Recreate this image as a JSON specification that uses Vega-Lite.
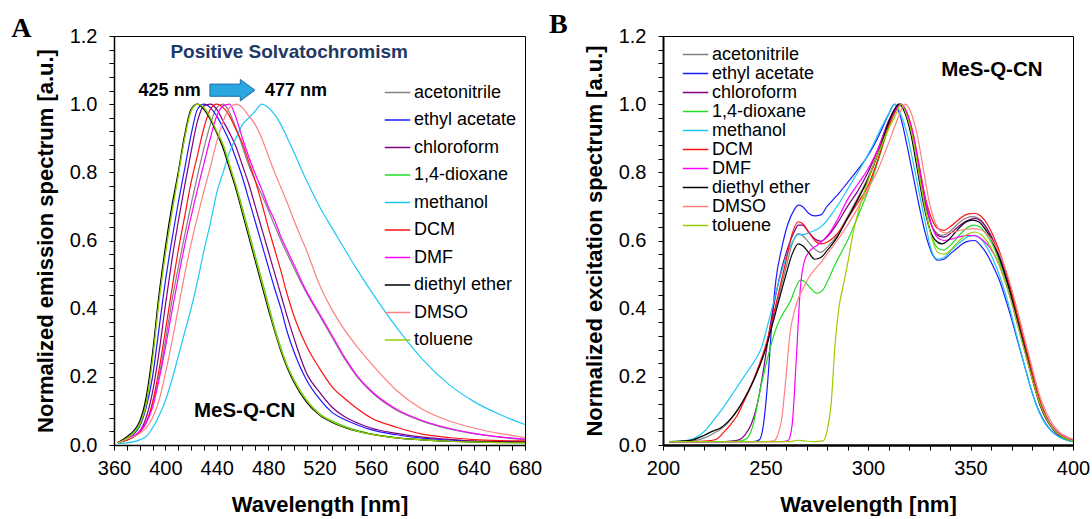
{
"$schema":"https://vega.github.io/schema/vega-lite/v6.json",
"padding":{"left":10,"top":10,"right":0,"bottom":0},
"config":{"font":"Liberation Sans","view":{"stroke":"#000","strokeWidth":1},
"axis":{"grid":false,"domainColor":"#000","domainWidth":1.5,"tickColor":"#000","tickSize":5,"tickWidth":1,"labelFont":"Liberation Sans","labelFontSize":20,"labelColor":"#000","titleFont":"Liberation Sans","titleFontSize":22,"titleFontWeight":"bold","titleColor":"#000","labelOverlap":false,"labelFlush":false,"labelBound":false},
"axisY":{"labelPadding":12,"titlePadding":12},
"axisX":{"labelPadding":8,"titlePadding":16},
"legend":{"labelFont":"Liberation Sans","labelColor":"#000","padding":0}},
"datasets":{
"emission":[
{"s":"acetonitrile","nm":363,"v":0.006},{"s":"acetonitrile","nm":370,"v":0.017},{"s":"acetonitrile","nm":380,"v":0.038},{"s":"acetonitrile","nm":385,"v":0.065},{"s":"acetonitrile","nm":390,"v":0.12},{"s":"acetonitrile","nm":395,"v":0.2},{"s":"acetonitrile","nm":400,"v":0.305},{"s":"acetonitrile","nm":405,"v":0.42},{"s":"acetonitrile","nm":410,"v":0.52},{"s":"acetonitrile","nm":415,"v":0.615},{"s":"acetonitrile","nm":420,"v":0.705},{"s":"acetonitrile","nm":425,"v":0.79},{"s":"acetonitrile","nm":430,"v":0.87},{"s":"acetonitrile","nm":435,"v":0.94},{"s":"acetonitrile","nm":440,"v":0.99},{"s":"acetonitrile","nm":445,"v":1},{"s":"acetonitrile","nm":450,"v":0.975},{"s":"acetonitrile","nm":455,"v":0.93},{"s":"acetonitrile","nm":460,"v":0.875},{"s":"acetonitrile","nm":465,"v":0.82},{"s":"acetonitrile","nm":470,"v":0.775},{"s":"acetonitrile","nm":475,"v":0.735},{"s":"acetonitrile","nm":480,"v":0.69},{"s":"acetonitrile","nm":485,"v":0.645},{"s":"acetonitrile","nm":490,"v":0.6},{"s":"acetonitrile","nm":495,"v":0.56},{"s":"acetonitrile","nm":500,"v":0.52},{"s":"acetonitrile","nm":510,"v":0.445},{"s":"acetonitrile","nm":520,"v":0.38},{"s":"acetonitrile","nm":530,"v":0.315},{"s":"acetonitrile","nm":540,"v":0.25},{"s":"acetonitrile","nm":550,"v":0.197},{"s":"acetonitrile","nm":560,"v":0.157},{"s":"acetonitrile","nm":580,"v":0.102},{"s":"acetonitrile","nm":600,"v":0.07},{"s":"acetonitrile","nm":620,"v":0.048},{"s":"acetonitrile","nm":640,"v":0.033},{"s":"acetonitrile","nm":660,"v":0.023},{"s":"acetonitrile","nm":680,"v":0.016},
{"s":"ethyl acetate","nm":363,"v":0.008},{"s":"ethyl acetate","nm":370,"v":0.018},{"s":"ethyl acetate","nm":380,"v":0.055},{"s":"ethyl acetate","nm":385,"v":0.11},{"s":"ethyl acetate","nm":390,"v":0.2},{"s":"ethyl acetate","nm":395,"v":0.34},{"s":"ethyl acetate","nm":400,"v":0.48},{"s":"ethyl acetate","nm":405,"v":0.6},{"s":"ethyl acetate","nm":410,"v":0.71},{"s":"ethyl acetate","nm":415,"v":0.81},{"s":"ethyl acetate","nm":420,"v":0.91},{"s":"ethyl acetate","nm":425,"v":0.985},{"s":"ethyl acetate","nm":430,"v":1},{"s":"ethyl acetate","nm":435,"v":0.99},{"s":"ethyl acetate","nm":440,"v":0.965},{"s":"ethyl acetate","nm":445,"v":0.93},{"s":"ethyl acetate","nm":450,"v":0.89},{"s":"ethyl acetate","nm":455,"v":0.84},{"s":"ethyl acetate","nm":460,"v":0.785},{"s":"ethyl acetate","nm":465,"v":0.72},{"s":"ethyl acetate","nm":470,"v":0.655},{"s":"ethyl acetate","nm":475,"v":0.59},{"s":"ethyl acetate","nm":480,"v":0.525},{"s":"ethyl acetate","nm":485,"v":0.46},{"s":"ethyl acetate","nm":490,"v":0.4},{"s":"ethyl acetate","nm":495,"v":0.33},{"s":"ethyl acetate","nm":500,"v":0.275},{"s":"ethyl acetate","nm":510,"v":0.19},{"s":"ethyl acetate","nm":520,"v":0.135},{"s":"ethyl acetate","nm":530,"v":0.095},{"s":"ethyl acetate","nm":540,"v":0.074},{"s":"ethyl acetate","nm":550,"v":0.058},{"s":"ethyl acetate","nm":560,"v":0.045},{"s":"ethyl acetate","nm":580,"v":0.03},{"s":"ethyl acetate","nm":600,"v":0.02},{"s":"ethyl acetate","nm":620,"v":0.015},{"s":"ethyl acetate","nm":640,"v":0.011},{"s":"ethyl acetate","nm":660,"v":0.009},{"s":"ethyl acetate","nm":680,"v":0.008},
{"s":"chloroform","nm":363,"v":0.007},{"s":"chloroform","nm":370,"v":0.014},{"s":"chloroform","nm":380,"v":0.04},{"s":"chloroform","nm":385,"v":0.08},{"s":"chloroform","nm":390,"v":0.155},{"s":"chloroform","nm":395,"v":0.27},{"s":"chloroform","nm":400,"v":0.41},{"s":"chloroform","nm":405,"v":0.54},{"s":"chloroform","nm":410,"v":0.655},{"s":"chloroform","nm":415,"v":0.76},{"s":"chloroform","nm":420,"v":0.86},{"s":"chloroform","nm":425,"v":0.95},{"s":"chloroform","nm":430,"v":0.995},{"s":"chloroform","nm":435,"v":1},{"s":"chloroform","nm":440,"v":0.985},{"s":"chloroform","nm":445,"v":0.95},{"s":"chloroform","nm":450,"v":0.915},{"s":"chloroform","nm":455,"v":0.875},{"s":"chloroform","nm":460,"v":0.82},{"s":"chloroform","nm":465,"v":0.765},{"s":"chloroform","nm":470,"v":0.7},{"s":"chloroform","nm":475,"v":0.635},{"s":"chloroform","nm":480,"v":0.57},{"s":"chloroform","nm":485,"v":0.505},{"s":"chloroform","nm":490,"v":0.44},{"s":"chloroform","nm":495,"v":0.375},{"s":"chloroform","nm":500,"v":0.315},{"s":"chloroform","nm":510,"v":0.21},{"s":"chloroform","nm":520,"v":0.155},{"s":"chloroform","nm":530,"v":0.11},{"s":"chloroform","nm":540,"v":0.082},{"s":"chloroform","nm":550,"v":0.064},{"s":"chloroform","nm":560,"v":0.05},{"s":"chloroform","nm":580,"v":0.034},{"s":"chloroform","nm":600,"v":0.023},{"s":"chloroform","nm":620,"v":0.017},{"s":"chloroform","nm":640,"v":0.012},{"s":"chloroform","nm":660,"v":0.01},{"s":"chloroform","nm":680,"v":0.009},
{"s":"1,4-dioxane","nm":363,"v":0.005},{"s":"1,4-dioxane","nm":370,"v":0.02},{"s":"1,4-dioxane","nm":380,"v":0.062},{"s":"1,4-dioxane","nm":385,"v":0.125},{"s":"1,4-dioxane","nm":390,"v":0.26},{"s":"1,4-dioxane","nm":395,"v":0.43},{"s":"1,4-dioxane","nm":400,"v":0.565},{"s":"1,4-dioxane","nm":405,"v":0.685},{"s":"1,4-dioxane","nm":410,"v":0.795},{"s":"1,4-dioxane","nm":415,"v":0.9},{"s":"1,4-dioxane","nm":420,"v":0.98},{"s":"1,4-dioxane","nm":425,"v":1},{"s":"1,4-dioxane","nm":430,"v":0.99},{"s":"1,4-dioxane","nm":435,"v":0.96},{"s":"1,4-dioxane","nm":440,"v":0.92},{"s":"1,4-dioxane","nm":445,"v":0.88},{"s":"1,4-dioxane","nm":450,"v":0.82},{"s":"1,4-dioxane","nm":455,"v":0.76},{"s":"1,4-dioxane","nm":460,"v":0.695},{"s":"1,4-dioxane","nm":465,"v":0.625},{"s":"1,4-dioxane","nm":470,"v":0.555},{"s":"1,4-dioxane","nm":475,"v":0.485},{"s":"1,4-dioxane","nm":480,"v":0.415},{"s":"1,4-dioxane","nm":485,"v":0.345},{"s":"1,4-dioxane","nm":490,"v":0.285},{"s":"1,4-dioxane","nm":495,"v":0.232},{"s":"1,4-dioxane","nm":500,"v":0.192},{"s":"1,4-dioxane","nm":510,"v":0.132},{"s":"1,4-dioxane","nm":520,"v":0.092},{"s":"1,4-dioxane","nm":530,"v":0.07},{"s":"1,4-dioxane","nm":540,"v":0.054},{"s":"1,4-dioxane","nm":550,"v":0.042},{"s":"1,4-dioxane","nm":560,"v":0.033},{"s":"1,4-dioxane","nm":580,"v":0.022},{"s":"1,4-dioxane","nm":600,"v":0.015},{"s":"1,4-dioxane","nm":620,"v":0.011},{"s":"1,4-dioxane","nm":640,"v":0.009},{"s":"1,4-dioxane","nm":660,"v":0.007},{"s":"1,4-dioxane","nm":680,"v":0.006},
{"s":"methanol","nm":363,"v":0.004},{"s":"methanol","nm":370,"v":0.006},{"s":"methanol","nm":380,"v":0.015},{"s":"methanol","nm":385,"v":0.025},{"s":"methanol","nm":390,"v":0.05},{"s":"methanol","nm":395,"v":0.085},{"s":"methanol","nm":400,"v":0.13},{"s":"methanol","nm":405,"v":0.19},{"s":"methanol","nm":410,"v":0.26},{"s":"methanol","nm":415,"v":0.33},{"s":"methanol","nm":420,"v":0.4},{"s":"methanol","nm":425,"v":0.48},{"s":"methanol","nm":430,"v":0.57},{"s":"methanol","nm":435,"v":0.65},{"s":"methanol","nm":440,"v":0.74},{"s":"methanol","nm":445,"v":0.8},{"s":"methanol","nm":450,"v":0.86},{"s":"methanol","nm":455,"v":0.9},{"s":"methanol","nm":460,"v":0.94},{"s":"methanol","nm":465,"v":0.96},{"s":"methanol","nm":470,"v":0.98},{"s":"methanol","nm":475,"v":1},{"s":"methanol","nm":480,"v":0.99},{"s":"methanol","nm":485,"v":0.97},{"s":"methanol","nm":490,"v":0.94},{"s":"methanol","nm":495,"v":0.9},{"s":"methanol","nm":500,"v":0.86},{"s":"methanol","nm":510,"v":0.775},{"s":"methanol","nm":520,"v":0.7},{"s":"methanol","nm":530,"v":0.635},{"s":"methanol","nm":540,"v":0.572},{"s":"methanol","nm":550,"v":0.51},{"s":"methanol","nm":560,"v":0.452},{"s":"methanol","nm":580,"v":0.345},{"s":"methanol","nm":600,"v":0.252},{"s":"methanol","nm":620,"v":0.18},{"s":"methanol","nm":640,"v":0.128},{"s":"methanol","nm":660,"v":0.09},{"s":"methanol","nm":680,"v":0.06},
{"s":"DCM","nm":363,"v":0.007},{"s":"DCM","nm":370,"v":0.015},{"s":"DCM","nm":380,"v":0.038},{"s":"DCM","nm":385,"v":0.065},{"s":"DCM","nm":390,"v":0.125},{"s":"DCM","nm":395,"v":0.22},{"s":"DCM","nm":400,"v":0.335},{"s":"DCM","nm":405,"v":0.455},{"s":"DCM","nm":410,"v":0.57},{"s":"DCM","nm":415,"v":0.67},{"s":"DCM","nm":420,"v":0.77},{"s":"DCM","nm":425,"v":0.85},{"s":"DCM","nm":430,"v":0.93},{"s":"DCM","nm":435,"v":0.985},{"s":"DCM","nm":440,"v":1},{"s":"DCM","nm":445,"v":0.99},{"s":"DCM","nm":450,"v":0.965},{"s":"DCM","nm":455,"v":0.925},{"s":"DCM","nm":460,"v":0.885},{"s":"DCM","nm":465,"v":0.83},{"s":"DCM","nm":470,"v":0.775},{"s":"DCM","nm":475,"v":0.71},{"s":"DCM","nm":480,"v":0.64},{"s":"DCM","nm":485,"v":0.575},{"s":"DCM","nm":490,"v":0.51},{"s":"DCM","nm":495,"v":0.44},{"s":"DCM","nm":500,"v":0.38},{"s":"DCM","nm":510,"v":0.29},{"s":"DCM","nm":520,"v":0.225},{"s":"DCM","nm":530,"v":0.17},{"s":"DCM","nm":540,"v":0.135},{"s":"DCM","nm":550,"v":0.105},{"s":"DCM","nm":560,"v":0.08},{"s":"DCM","nm":580,"v":0.052},{"s":"DCM","nm":600,"v":0.032},{"s":"DCM","nm":620,"v":0.022},{"s":"DCM","nm":640,"v":0.016},{"s":"DCM","nm":660,"v":0.013},{"s":"DCM","nm":680,"v":0.012},
{"s":"DMF","nm":363,"v":0.007},{"s":"DMF","nm":370,"v":0.018},{"s":"DMF","nm":380,"v":0.04},{"s":"DMF","nm":385,"v":0.065},{"s":"DMF","nm":390,"v":0.11},{"s":"DMF","nm":395,"v":0.19},{"s":"DMF","nm":400,"v":0.285},{"s":"DMF","nm":405,"v":0.39},{"s":"DMF","nm":410,"v":0.49},{"s":"DMF","nm":415,"v":0.585},{"s":"DMF","nm":420,"v":0.67},{"s":"DMF","nm":425,"v":0.75},{"s":"DMF","nm":430,"v":0.825},{"s":"DMF","nm":435,"v":0.9},{"s":"DMF","nm":440,"v":0.965},{"s":"DMF","nm":445,"v":0.995},{"s":"DMF","nm":450,"v":1},{"s":"DMF","nm":455,"v":0.96},{"s":"DMF","nm":460,"v":0.9},{"s":"DMF","nm":465,"v":0.845},{"s":"DMF","nm":470,"v":0.795},{"s":"DMF","nm":475,"v":0.75},{"s":"DMF","nm":480,"v":0.7},{"s":"DMF","nm":485,"v":0.66},{"s":"DMF","nm":490,"v":0.61},{"s":"DMF","nm":495,"v":0.57},{"s":"DMF","nm":500,"v":0.53},{"s":"DMF","nm":510,"v":0.45},{"s":"DMF","nm":520,"v":0.385},{"s":"DMF","nm":530,"v":0.32},{"s":"DMF","nm":540,"v":0.255},{"s":"DMF","nm":550,"v":0.2},{"s":"DMF","nm":560,"v":0.16},{"s":"DMF","nm":580,"v":0.105},{"s":"DMF","nm":600,"v":0.072},{"s":"DMF","nm":620,"v":0.05},{"s":"DMF","nm":640,"v":0.034},{"s":"DMF","nm":660,"v":0.024},{"s":"DMF","nm":680,"v":0.017},
{"s":"diethyl ether","nm":363,"v":0.007},{"s":"diethyl ether","nm":370,"v":0.024},{"s":"diethyl ether","nm":380,"v":0.07},{"s":"diethyl ether","nm":385,"v":0.14},{"s":"diethyl ether","nm":390,"v":0.27},{"s":"diethyl ether","nm":395,"v":0.44},{"s":"diethyl ether","nm":400,"v":0.58},{"s":"diethyl ether","nm":405,"v":0.7},{"s":"diethyl ether","nm":410,"v":0.8},{"s":"diethyl ether","nm":415,"v":0.91},{"s":"diethyl ether","nm":420,"v":0.985},{"s":"diethyl ether","nm":425,"v":1},{"s":"diethyl ether","nm":430,"v":0.985},{"s":"diethyl ether","nm":435,"v":0.955},{"s":"diethyl ether","nm":440,"v":0.915},{"s":"diethyl ether","nm":445,"v":0.87},{"s":"diethyl ether","nm":450,"v":0.81},{"s":"diethyl ether","nm":455,"v":0.75},{"s":"diethyl ether","nm":460,"v":0.68},{"s":"diethyl ether","nm":465,"v":0.61},{"s":"diethyl ether","nm":470,"v":0.54},{"s":"diethyl ether","nm":475,"v":0.47},{"s":"diethyl ether","nm":480,"v":0.4},{"s":"diethyl ether","nm":485,"v":0.335},{"s":"diethyl ether","nm":490,"v":0.275},{"s":"diethyl ether","nm":495,"v":0.225},{"s":"diethyl ether","nm":500,"v":0.185},{"s":"diethyl ether","nm":510,"v":0.125},{"s":"diethyl ether","nm":520,"v":0.088},{"s":"diethyl ether","nm":530,"v":0.066},{"s":"diethyl ether","nm":540,"v":0.051},{"s":"diethyl ether","nm":550,"v":0.04},{"s":"diethyl ether","nm":560,"v":0.032},{"s":"diethyl ether","nm":580,"v":0.021},{"s":"diethyl ether","nm":600,"v":0.015},{"s":"diethyl ether","nm":620,"v":0.011},{"s":"diethyl ether","nm":640,"v":0.009},{"s":"diethyl ether","nm":660,"v":0.008},{"s":"diethyl ether","nm":680,"v":0.008},
{"s":"DMSO","nm":363,"v":0.007},{"s":"DMSO","nm":370,"v":0.017},{"s":"DMSO","nm":380,"v":0.034},{"s":"DMSO","nm":385,"v":0.05},{"s":"DMSO","nm":390,"v":0.08},{"s":"DMSO","nm":395,"v":0.13},{"s":"DMSO","nm":400,"v":0.21},{"s":"DMSO","nm":405,"v":0.3},{"s":"DMSO","nm":410,"v":0.4},{"s":"DMSO","nm":415,"v":0.5},{"s":"DMSO","nm":420,"v":0.59},{"s":"DMSO","nm":425,"v":0.67},{"s":"DMSO","nm":430,"v":0.745},{"s":"DMSO","nm":435,"v":0.815},{"s":"DMSO","nm":440,"v":0.89},{"s":"DMSO","nm":445,"v":0.95},{"s":"DMSO","nm":450,"v":0.99},{"s":"DMSO","nm":455,"v":1},{"s":"DMSO","nm":460,"v":0.99},{"s":"DMSO","nm":465,"v":0.965},{"s":"DMSO","nm":470,"v":0.94},{"s":"DMSO","nm":475,"v":0.9},{"s":"DMSO","nm":480,"v":0.85},{"s":"DMSO","nm":485,"v":0.8},{"s":"DMSO","nm":490,"v":0.755},{"s":"DMSO","nm":495,"v":0.71},{"s":"DMSO","nm":500,"v":0.66},{"s":"DMSO","nm":510,"v":0.57},{"s":"DMSO","nm":520,"v":0.47},{"s":"DMSO","nm":530,"v":0.395},{"s":"DMSO","nm":540,"v":0.335},{"s":"DMSO","nm":550,"v":0.285},{"s":"DMSO","nm":560,"v":0.24},{"s":"DMSO","nm":580,"v":0.16},{"s":"DMSO","nm":600,"v":0.105},{"s":"DMSO","nm":620,"v":0.072},{"s":"DMSO","nm":640,"v":0.05},{"s":"DMSO","nm":660,"v":0.034},{"s":"DMSO","nm":680,"v":0.022},
{"s":"toluene","nm":363,"v":0.006},{"s":"toluene","nm":370,"v":0.02},{"s":"toluene","nm":380,"v":0.06},{"s":"toluene","nm":385,"v":0.12},{"s":"toluene","nm":390,"v":0.25},{"s":"toluene","nm":395,"v":0.42},{"s":"toluene","nm":400,"v":0.56},{"s":"toluene","nm":405,"v":0.68},{"s":"toluene","nm":410,"v":0.79},{"s":"toluene","nm":415,"v":0.9},{"s":"toluene","nm":420,"v":0.98},{"s":"toluene","nm":425,"v":1},{"s":"toluene","nm":430,"v":0.99},{"s":"toluene","nm":435,"v":0.96},{"s":"toluene","nm":440,"v":0.92},{"s":"toluene","nm":445,"v":0.88},{"s":"toluene","nm":450,"v":0.82},{"s":"toluene","nm":455,"v":0.76},{"s":"toluene","nm":460,"v":0.69},{"s":"toluene","nm":465,"v":0.62},{"s":"toluene","nm":470,"v":0.55},{"s":"toluene","nm":475,"v":0.48},{"s":"toluene","nm":480,"v":0.41},{"s":"toluene","nm":485,"v":0.34},{"s":"toluene","nm":490,"v":0.28},{"s":"toluene","nm":495,"v":0.23},{"s":"toluene","nm":500,"v":0.19},{"s":"toluene","nm":510,"v":0.13},{"s":"toluene","nm":520,"v":0.09},{"s":"toluene","nm":530,"v":0.068},{"s":"toluene","nm":540,"v":0.052},{"s":"toluene","nm":550,"v":0.04},{"s":"toluene","nm":560,"v":0.032},{"s":"toluene","nm":580,"v":0.021},{"s":"toluene","nm":600,"v":0.015},{"s":"toluene","nm":620,"v":0.011},{"s":"toluene","nm":640,"v":0.009},{"s":"toluene","nm":660,"v":0.007},{"s":"toluene","nm":680,"v":0.006}
],
"excitation":[
{"s":"acetonitrile","nm":203,"v":0.01},{"s":"acetonitrile","nm":210,"v":0.011},{"s":"acetonitrile","nm":215,"v":0.013},{"s":"acetonitrile","nm":220,"v":0.02},{"s":"acetonitrile","nm":225,"v":0.035},{"s":"acetonitrile","nm":230,"v":0.055},{"s":"acetonitrile","nm":235,"v":0.09},{"s":"acetonitrile","nm":240,"v":0.135},{"s":"acetonitrile","nm":245,"v":0.2},{"s":"acetonitrile","nm":250,"v":0.285},{"s":"acetonitrile","nm":255,"v":0.4},{"s":"acetonitrile","nm":260,"v":0.52},{"s":"acetonitrile","nm":263,"v":0.59},{"s":"acetonitrile","nm":266,"v":0.62},{"s":"acetonitrile","nm":268,"v":0.615},{"s":"acetonitrile","nm":271,"v":0.595},{"s":"acetonitrile","nm":274,"v":0.575},{"s":"acetonitrile","nm":277,"v":0.565},{"s":"acetonitrile","nm":280,"v":0.58},{"s":"acetonitrile","nm":285,"v":0.615},{"s":"acetonitrile","nm":290,"v":0.67},{"s":"acetonitrile","nm":295,"v":0.725},{"s":"acetonitrile","nm":300,"v":0.785},{"s":"acetonitrile","nm":305,"v":0.86},{"s":"acetonitrile","nm":310,"v":0.95},{"s":"acetonitrile","nm":313,"v":0.985},{"s":"acetonitrile","nm":315,"v":1},{"s":"acetonitrile","nm":318,"v":0.98},{"s":"acetonitrile","nm":321,"v":0.92},{"s":"acetonitrile","nm":324,"v":0.825},{"s":"acetonitrile","nm":327,"v":0.73},{"s":"acetonitrile","nm":330,"v":0.66},{"s":"acetonitrile","nm":333,"v":0.625},{"s":"acetonitrile","nm":336,"v":0.615},{"s":"acetonitrile","nm":339,"v":0.622},{"s":"acetonitrile","nm":342,"v":0.638},{"s":"acetonitrile","nm":345,"v":0.655},{"s":"acetonitrile","nm":348,"v":0.666},{"s":"acetonitrile","nm":351,"v":0.67},{"s":"acetonitrile","nm":354,"v":0.665},{"s":"acetonitrile","nm":357,"v":0.645},{"s":"acetonitrile","nm":360,"v":0.615},{"s":"acetonitrile","nm":363,"v":0.575},{"s":"acetonitrile","nm":366,"v":0.525},{"s":"acetonitrile","nm":369,"v":0.465},{"s":"acetonitrile","nm":372,"v":0.395},{"s":"acetonitrile","nm":375,"v":0.325},{"s":"acetonitrile","nm":378,"v":0.255},{"s":"acetonitrile","nm":381,"v":0.185},{"s":"acetonitrile","nm":384,"v":0.122},{"s":"acetonitrile","nm":387,"v":0.08},{"s":"acetonitrile","nm":390,"v":0.05},{"s":"acetonitrile","nm":393,"v":0.032},{"s":"acetonitrile","nm":396,"v":0.021},{"s":"acetonitrile","nm":400,"v":0.013},
{"s":"ethyl acetate","nm":203,"v":0.01},{"s":"ethyl acetate","nm":244,"v":0.01},{"s":"ethyl acetate","nm":247,"v":0.015},{"s":"ethyl acetate","nm":249,"v":0.06},{"s":"ethyl acetate","nm":251,"v":0.18},{"s":"ethyl acetate","nm":253,"v":0.35},{"s":"ethyl acetate","nm":255,"v":0.48},{"s":"ethyl acetate","nm":258,"v":0.58},{"s":"ethyl acetate","nm":261,"v":0.65},{"s":"ethyl acetate","nm":264,"v":0.69},{"s":"ethyl acetate","nm":266,"v":0.704},{"s":"ethyl acetate","nm":268,"v":0.7},{"s":"ethyl acetate","nm":271,"v":0.68},{"s":"ethyl acetate","nm":274,"v":0.672},{"s":"ethyl acetate","nm":277,"v":0.675},{"s":"ethyl acetate","nm":280,"v":0.7},{"s":"ethyl acetate","nm":283,"v":0.72},{"s":"ethyl acetate","nm":286,"v":0.74},{"s":"ethyl acetate","nm":290,"v":0.77},{"s":"ethyl acetate","nm":294,"v":0.8},{"s":"ethyl acetate","nm":299,"v":0.84},{"s":"ethyl acetate","nm":303,"v":0.88},{"s":"ethyl acetate","nm":307,"v":0.93},{"s":"ethyl acetate","nm":310,"v":0.97},{"s":"ethyl acetate","nm":313,"v":1},{"s":"ethyl acetate","nm":316,"v":0.96},{"s":"ethyl acetate","nm":319,"v":0.88},{"s":"ethyl acetate","nm":322,"v":0.79},{"s":"ethyl acetate","nm":325,"v":0.7},{"s":"ethyl acetate","nm":328,"v":0.62},{"s":"ethyl acetate","nm":331,"v":0.565},{"s":"ethyl acetate","nm":334,"v":0.542},{"s":"ethyl acetate","nm":337,"v":0.545},{"s":"ethyl acetate","nm":340,"v":0.56},{"s":"ethyl acetate","nm":343,"v":0.575},{"s":"ethyl acetate","nm":346,"v":0.59},{"s":"ethyl acetate","nm":349,"v":0.598},{"s":"ethyl acetate","nm":352,"v":0.6},{"s":"ethyl acetate","nm":355,"v":0.585},{"s":"ethyl acetate","nm":358,"v":0.56},{"s":"ethyl acetate","nm":361,"v":0.525},{"s":"ethyl acetate","nm":364,"v":0.485},{"s":"ethyl acetate","nm":367,"v":0.43},{"s":"ethyl acetate","nm":370,"v":0.37},{"s":"ethyl acetate","nm":373,"v":0.305},{"s":"ethyl acetate","nm":376,"v":0.24},{"s":"ethyl acetate","nm":379,"v":0.175},{"s":"ethyl acetate","nm":382,"v":0.12},{"s":"ethyl acetate","nm":385,"v":0.08},{"s":"ethyl acetate","nm":388,"v":0.052},{"s":"ethyl acetate","nm":391,"v":0.034},{"s":"ethyl acetate","nm":394,"v":0.022},{"s":"ethyl acetate","nm":397,"v":0.015},{"s":"ethyl acetate","nm":400,"v":0.01},
{"s":"chloroform","nm":203,"v":0.01},{"s":"chloroform","nm":230,"v":0.01},{"s":"chloroform","nm":234,"v":0.012},{"s":"chloroform","nm":237,"v":0.015},{"s":"chloroform","nm":240,"v":0.03},{"s":"chloroform","nm":243,"v":0.06},{"s":"chloroform","nm":246,"v":0.12},{"s":"chloroform","nm":249,"v":0.22},{"s":"chloroform","nm":252,"v":0.34},{"s":"chloroform","nm":255,"v":0.44},{"s":"chloroform","nm":258,"v":0.52},{"s":"chloroform","nm":261,"v":0.58},{"s":"chloroform","nm":264,"v":0.625},{"s":"chloroform","nm":266,"v":0.645},{"s":"chloroform","nm":268,"v":0.645},{"s":"chloroform","nm":271,"v":0.625},{"s":"chloroform","nm":274,"v":0.605},{"s":"chloroform","nm":277,"v":0.598},{"s":"chloroform","nm":280,"v":0.61},{"s":"chloroform","nm":285,"v":0.65},{"s":"chloroform","nm":290,"v":0.7},{"s":"chloroform","nm":295,"v":0.745},{"s":"chloroform","nm":300,"v":0.8},{"s":"chloroform","nm":305,"v":0.87},{"s":"chloroform","nm":310,"v":0.95},{"s":"chloroform","nm":313,"v":0.985},{"s":"chloroform","nm":316,"v":1},{"s":"chloroform","nm":319,"v":0.97},{"s":"chloroform","nm":322,"v":0.905},{"s":"chloroform","nm":325,"v":0.81},{"s":"chloroform","nm":328,"v":0.715},{"s":"chloroform","nm":331,"v":0.645},{"s":"chloroform","nm":334,"v":0.615},{"s":"chloroform","nm":337,"v":0.61},{"s":"chloroform","nm":340,"v":0.62},{"s":"chloroform","nm":343,"v":0.635},{"s":"chloroform","nm":346,"v":0.65},{"s":"chloroform","nm":349,"v":0.66},{"s":"chloroform","nm":352,"v":0.665},{"s":"chloroform","nm":355,"v":0.658},{"s":"chloroform","nm":358,"v":0.635},{"s":"chloroform","nm":361,"v":0.6},{"s":"chloroform","nm":364,"v":0.555},{"s":"chloroform","nm":367,"v":0.5},{"s":"chloroform","nm":370,"v":0.44},{"s":"chloroform","nm":373,"v":0.37},{"s":"chloroform","nm":376,"v":0.3},{"s":"chloroform","nm":379,"v":0.23},{"s":"chloroform","nm":382,"v":0.163},{"s":"chloroform","nm":385,"v":0.108},{"s":"chloroform","nm":388,"v":0.07},{"s":"chloroform","nm":391,"v":0.045},{"s":"chloroform","nm":394,"v":0.028},{"s":"chloroform","nm":397,"v":0.019},{"s":"chloroform","nm":400,"v":0.013},
{"s":"1,4-dioxane","nm":203,"v":0.01},{"s":"1,4-dioxane","nm":235,"v":0.01},{"s":"1,4-dioxane","nm":238,"v":0.012},{"s":"1,4-dioxane","nm":241,"v":0.02},{"s":"1,4-dioxane","nm":244,"v":0.06},{"s":"1,4-dioxane","nm":247,"v":0.15},{"s":"1,4-dioxane","nm":250,"v":0.23},{"s":"1,4-dioxane","nm":253,"v":0.3},{"s":"1,4-dioxane","nm":256,"v":0.355},{"s":"1,4-dioxane","nm":259,"v":0.39},{"s":"1,4-dioxane","nm":262,"v":0.42},{"s":"1,4-dioxane","nm":265,"v":0.465},{"s":"1,4-dioxane","nm":267,"v":0.484},{"s":"1,4-dioxane","nm":269,"v":0.48},{"s":"1,4-dioxane","nm":272,"v":0.46},{"s":"1,4-dioxane","nm":275,"v":0.445},{"s":"1,4-dioxane","nm":278,"v":0.455},{"s":"1,4-dioxane","nm":281,"v":0.49},{"s":"1,4-dioxane","nm":284,"v":0.53},{"s":"1,4-dioxane","nm":287,"v":0.565},{"s":"1,4-dioxane","nm":290,"v":0.6},{"s":"1,4-dioxane","nm":295,"v":0.67},{"s":"1,4-dioxane","nm":300,"v":0.745},{"s":"1,4-dioxane","nm":305,"v":0.835},{"s":"1,4-dioxane","nm":310,"v":0.93},{"s":"1,4-dioxane","nm":313,"v":0.975},{"s":"1,4-dioxane","nm":316,"v":1},{"s":"1,4-dioxane","nm":319,"v":0.965},{"s":"1,4-dioxane","nm":322,"v":0.895},{"s":"1,4-dioxane","nm":325,"v":0.79},{"s":"1,4-dioxane","nm":328,"v":0.69},{"s":"1,4-dioxane","nm":331,"v":0.615},{"s":"1,4-dioxane","nm":334,"v":0.578},{"s":"1,4-dioxane","nm":337,"v":0.572},{"s":"1,4-dioxane","nm":340,"v":0.585},{"s":"1,4-dioxane","nm":343,"v":0.605},{"s":"1,4-dioxane","nm":346,"v":0.625},{"s":"1,4-dioxane","nm":349,"v":0.64},{"s":"1,4-dioxane","nm":352,"v":0.645},{"s":"1,4-dioxane","nm":355,"v":0.638},{"s":"1,4-dioxane","nm":358,"v":0.615},{"s":"1,4-dioxane","nm":361,"v":0.585},{"s":"1,4-dioxane","nm":364,"v":0.54},{"s":"1,4-dioxane","nm":367,"v":0.49},{"s":"1,4-dioxane","nm":370,"v":0.43},{"s":"1,4-dioxane","nm":373,"v":0.36},{"s":"1,4-dioxane","nm":376,"v":0.29},{"s":"1,4-dioxane","nm":379,"v":0.222},{"s":"1,4-dioxane","nm":382,"v":0.158},{"s":"1,4-dioxane","nm":385,"v":0.105},{"s":"1,4-dioxane","nm":388,"v":0.068},{"s":"1,4-dioxane","nm":391,"v":0.043},{"s":"1,4-dioxane","nm":394,"v":0.027},{"s":"1,4-dioxane","nm":397,"v":0.018},{"s":"1,4-dioxane","nm":400,"v":0.012},
{"s":"methanol","nm":203,"v":0.01},{"s":"methanol","nm":210,"v":0.012},{"s":"methanol","nm":213,"v":0.015},{"s":"methanol","nm":217,"v":0.025},{"s":"methanol","nm":221,"v":0.045},{"s":"methanol","nm":225,"v":0.075},{"s":"methanol","nm":230,"v":0.115},{"s":"methanol","nm":235,"v":0.16},{"s":"methanol","nm":240,"v":0.205},{"s":"methanol","nm":245,"v":0.25},{"s":"methanol","nm":248,"v":0.285},{"s":"methanol","nm":251,"v":0.35},{"s":"methanol","nm":254,"v":0.42},{"s":"methanol","nm":257,"v":0.49},{"s":"methanol","nm":260,"v":0.55},{"s":"methanol","nm":263,"v":0.595},{"s":"methanol","nm":266,"v":0.617},{"s":"methanol","nm":269,"v":0.618},{"s":"methanol","nm":272,"v":0.625},{"s":"methanol","nm":275,"v":0.632},{"s":"methanol","nm":278,"v":0.645},{"s":"methanol","nm":282,"v":0.675},{"s":"methanol","nm":286,"v":0.71},{"s":"methanol","nm":290,"v":0.75},{"s":"methanol","nm":294,"v":0.79},{"s":"methanol","nm":298,"v":0.83},{"s":"methanol","nm":302,"v":0.875},{"s":"methanol","nm":306,"v":0.925},{"s":"methanol","nm":310,"v":0.97},{"s":"methanol","nm":313,"v":1},{"s":"methanol","nm":316,"v":0.97},{"s":"methanol","nm":319,"v":0.915},{"s":"methanol","nm":322,"v":0.83},{"s":"methanol","nm":325,"v":0.74},{"s":"methanol","nm":328,"v":0.65},{"s":"methanol","nm":331,"v":0.57},{"s":"methanol","nm":334,"v":0.545},{"s":"methanol","nm":337,"v":0.55},{"s":"methanol","nm":340,"v":0.567},{"s":"methanol","nm":343,"v":0.585},{"s":"methanol","nm":346,"v":0.6},{"s":"methanol","nm":349,"v":0.612},{"s":"methanol","nm":352,"v":0.615},{"s":"methanol","nm":355,"v":0.605},{"s":"methanol","nm":358,"v":0.58},{"s":"methanol","nm":361,"v":0.545},{"s":"methanol","nm":364,"v":0.5},{"s":"methanol","nm":367,"v":0.445},{"s":"methanol","nm":370,"v":0.38},{"s":"methanol","nm":373,"v":0.31},{"s":"methanol","nm":376,"v":0.24},{"s":"methanol","nm":379,"v":0.175},{"s":"methanol","nm":382,"v":0.118},{"s":"methanol","nm":385,"v":0.077},{"s":"methanol","nm":388,"v":0.05},{"s":"methanol","nm":391,"v":0.032},{"s":"methanol","nm":394,"v":0.021},{"s":"methanol","nm":397,"v":0.014},{"s":"methanol","nm":400,"v":0.01},
{"s":"DCM","nm":203,"v":0.01},{"s":"DCM","nm":215,"v":0.01},{"s":"DCM","nm":222,"v":0.012},{"s":"DCM","nm":226,"v":0.017},{"s":"DCM","nm":230,"v":0.04},{"s":"DCM","nm":233,"v":0.06},{"s":"DCM","nm":236,"v":0.085},{"s":"DCM","nm":240,"v":0.135},{"s":"DCM","nm":245,"v":0.205},{"s":"DCM","nm":250,"v":0.29},{"s":"DCM","nm":255,"v":0.41},{"s":"DCM","nm":260,"v":0.54},{"s":"DCM","nm":263,"v":0.62},{"s":"DCM","nm":266,"v":0.655},{"s":"DCM","nm":268,"v":0.65},{"s":"DCM","nm":271,"v":0.625},{"s":"DCM","nm":274,"v":0.6},{"s":"DCM","nm":277,"v":0.59},{"s":"DCM","nm":280,"v":0.595},{"s":"DCM","nm":285,"v":0.62},{"s":"DCM","nm":290,"v":0.665},{"s":"DCM","nm":295,"v":0.71},{"s":"DCM","nm":300,"v":0.76},{"s":"DCM","nm":305,"v":0.84},{"s":"DCM","nm":310,"v":0.935},{"s":"DCM","nm":313,"v":0.975},{"s":"DCM","nm":316,"v":1},{"s":"DCM","nm":319,"v":0.975},{"s":"DCM","nm":322,"v":0.915},{"s":"DCM","nm":325,"v":0.82},{"s":"DCM","nm":328,"v":0.725},{"s":"DCM","nm":331,"v":0.665},{"s":"DCM","nm":334,"v":0.635},{"s":"DCM","nm":337,"v":0.63},{"s":"DCM","nm":340,"v":0.64},{"s":"DCM","nm":343,"v":0.655},{"s":"DCM","nm":346,"v":0.67},{"s":"DCM","nm":349,"v":0.678},{"s":"DCM","nm":352,"v":0.68},{"s":"DCM","nm":355,"v":0.672},{"s":"DCM","nm":358,"v":0.65},{"s":"DCM","nm":361,"v":0.615},{"s":"DCM","nm":364,"v":0.57},{"s":"DCM","nm":367,"v":0.515},{"s":"DCM","nm":370,"v":0.45},{"s":"DCM","nm":373,"v":0.38},{"s":"DCM","nm":376,"v":0.31},{"s":"DCM","nm":379,"v":0.24},{"s":"DCM","nm":382,"v":0.17},{"s":"DCM","nm":385,"v":0.112},{"s":"DCM","nm":388,"v":0.072},{"s":"DCM","nm":391,"v":0.046},{"s":"DCM","nm":394,"v":0.03},{"s":"DCM","nm":397,"v":0.02},{"s":"DCM","nm":400,"v":0.014},
{"s":"DMF","nm":203,"v":0.01},{"s":"DMF","nm":258,"v":0.01},{"s":"DMF","nm":261,"v":0.013},{"s":"DMF","nm":263,"v":0.06},{"s":"DMF","nm":265,"v":0.25},{"s":"DMF","nm":267,"v":0.46},{"s":"DMF","nm":269,"v":0.54},{"s":"DMF","nm":272,"v":0.572},{"s":"DMF","nm":275,"v":0.585},{"s":"DMF","nm":278,"v":0.6},{"s":"DMF","nm":281,"v":0.62},{"s":"DMF","nm":285,"v":0.66},{"s":"DMF","nm":290,"v":0.72},{"s":"DMF","nm":295,"v":0.765},{"s":"DMF","nm":300,"v":0.81},{"s":"DMF","nm":305,"v":0.87},{"s":"DMF","nm":310,"v":0.945},{"s":"DMF","nm":313,"v":0.98},{"s":"DMF","nm":316,"v":1},{"s":"DMF","nm":319,"v":0.975},{"s":"DMF","nm":322,"v":0.91},{"s":"DMF","nm":325,"v":0.815},{"s":"DMF","nm":328,"v":0.72},{"s":"DMF","nm":331,"v":0.645},{"s":"DMF","nm":334,"v":0.608},{"s":"DMF","nm":337,"v":0.6},{"s":"DMF","nm":340,"v":0.603},{"s":"DMF","nm":343,"v":0.608},{"s":"DMF","nm":346,"v":0.613},{"s":"DMF","nm":349,"v":0.615},{"s":"DMF","nm":352,"v":0.614},{"s":"DMF","nm":355,"v":0.606},{"s":"DMF","nm":358,"v":0.59},{"s":"DMF","nm":361,"v":0.565},{"s":"DMF","nm":364,"v":0.528},{"s":"DMF","nm":367,"v":0.478},{"s":"DMF","nm":370,"v":0.42},{"s":"DMF","nm":373,"v":0.352},{"s":"DMF","nm":376,"v":0.285},{"s":"DMF","nm":379,"v":0.218},{"s":"DMF","nm":382,"v":0.155},{"s":"DMF","nm":385,"v":0.105},{"s":"DMF","nm":388,"v":0.068},{"s":"DMF","nm":391,"v":0.045},{"s":"DMF","nm":394,"v":0.029},{"s":"DMF","nm":397,"v":0.02},{"s":"DMF","nm":400,"v":0.014},
{"s":"diethyl ether","nm":203,"v":0.01},{"s":"diethyl ether","nm":210,"v":0.012},{"s":"diethyl ether","nm":215,"v":0.016},{"s":"diethyl ether","nm":220,"v":0.028},{"s":"diethyl ether","nm":224,"v":0.04},{"s":"diethyl ether","nm":228,"v":0.05},{"s":"diethyl ether","nm":232,"v":0.07},{"s":"diethyl ether","nm":236,"v":0.1},{"s":"diethyl ether","nm":240,"v":0.14},{"s":"diethyl ether","nm":245,"v":0.2},{"s":"diethyl ether","nm":250,"v":0.28},{"s":"diethyl ether","nm":255,"v":0.39},{"s":"diethyl ether","nm":260,"v":0.5},{"s":"diethyl ether","nm":263,"v":0.56},{"s":"diethyl ether","nm":266,"v":0.59},{"s":"diethyl ether","nm":268,"v":0.585},{"s":"diethyl ether","nm":271,"v":0.565},{"s":"diethyl ether","nm":274,"v":0.545},{"s":"diethyl ether","nm":277,"v":0.55},{"s":"diethyl ether","nm":280,"v":0.57},{"s":"diethyl ether","nm":285,"v":0.61},{"s":"diethyl ether","nm":290,"v":0.665},{"s":"diethyl ether","nm":295,"v":0.72},{"s":"diethyl ether","nm":300,"v":0.78},{"s":"diethyl ether","nm":305,"v":0.855},{"s":"diethyl ether","nm":310,"v":0.945},{"s":"diethyl ether","nm":313,"v":0.985},{"s":"diethyl ether","nm":315,"v":1},{"s":"diethyl ether","nm":318,"v":0.975},{"s":"diethyl ether","nm":321,"v":0.91},{"s":"diethyl ether","nm":324,"v":0.81},{"s":"diethyl ether","nm":327,"v":0.71},{"s":"diethyl ether","nm":330,"v":0.635},{"s":"diethyl ether","nm":333,"v":0.6},{"s":"diethyl ether","nm":336,"v":0.59},{"s":"diethyl ether","nm":339,"v":0.6},{"s":"diethyl ether","nm":342,"v":0.62},{"s":"diethyl ether","nm":345,"v":0.64},{"s":"diethyl ether","nm":348,"v":0.655},{"s":"diethyl ether","nm":351,"v":0.66},{"s":"diethyl ether","nm":354,"v":0.655},{"s":"diethyl ether","nm":357,"v":0.635},{"s":"diethyl ether","nm":360,"v":0.605},{"s":"diethyl ether","nm":363,"v":0.565},{"s":"diethyl ether","nm":366,"v":0.515},{"s":"diethyl ether","nm":369,"v":0.455},{"s":"diethyl ether","nm":372,"v":0.385},{"s":"diethyl ether","nm":375,"v":0.315},{"s":"diethyl ether","nm":378,"v":0.245},{"s":"diethyl ether","nm":381,"v":0.175},{"s":"diethyl ether","nm":384,"v":0.115},{"s":"diethyl ether","nm":387,"v":0.075},{"s":"diethyl ether","nm":390,"v":0.048},{"s":"diethyl ether","nm":393,"v":0.03},{"s":"diethyl ether","nm":396,"v":0.02},{"s":"diethyl ether","nm":400,"v":0.012},
{"s":"DMSO","nm":203,"v":0.01},{"s":"DMSO","nm":250,"v":0.01},{"s":"DMSO","nm":254,"v":0.012},{"s":"DMSO","nm":256,"v":0.03},{"s":"DMSO","nm":258,"v":0.08},{"s":"DMSO","nm":260,"v":0.2},{"s":"DMSO","nm":262,"v":0.33},{"s":"DMSO","nm":264,"v":0.39},{"s":"DMSO","nm":266,"v":0.43},{"s":"DMSO","nm":268,"v":0.455},{"s":"DMSO","nm":271,"v":0.49},{"s":"DMSO","nm":274,"v":0.515},{"s":"DMSO","nm":277,"v":0.535},{"s":"DMSO","nm":280,"v":0.56},{"s":"DMSO","nm":285,"v":0.6},{"s":"DMSO","nm":290,"v":0.645},{"s":"DMSO","nm":295,"v":0.695},{"s":"DMSO","nm":300,"v":0.75},{"s":"DMSO","nm":305,"v":0.81},{"s":"DMSO","nm":310,"v":0.885},{"s":"DMSO","nm":314,"v":0.95},{"s":"DMSO","nm":318,"v":1},{"s":"DMSO","nm":321,"v":0.975},{"s":"DMSO","nm":324,"v":0.91},{"s":"DMSO","nm":327,"v":0.81},{"s":"DMSO","nm":330,"v":0.71},{"s":"DMSO","nm":333,"v":0.65},{"s":"DMSO","nm":336,"v":0.625},{"s":"DMSO","nm":339,"v":0.622},{"s":"DMSO","nm":342,"v":0.625},{"s":"DMSO","nm":345,"v":0.63},{"s":"DMSO","nm":348,"v":0.633},{"s":"DMSO","nm":351,"v":0.635},{"s":"DMSO","nm":354,"v":0.633},{"s":"DMSO","nm":357,"v":0.625},{"s":"DMSO","nm":360,"v":0.605},{"s":"DMSO","nm":363,"v":0.575},{"s":"DMSO","nm":366,"v":0.535},{"s":"DMSO","nm":369,"v":0.48},{"s":"DMSO","nm":372,"v":0.415},{"s":"DMSO","nm":375,"v":0.345},{"s":"DMSO","nm":378,"v":0.275},{"s":"DMSO","nm":381,"v":0.205},{"s":"DMSO","nm":384,"v":0.14},{"s":"DMSO","nm":387,"v":0.095},{"s":"DMSO","nm":390,"v":0.062},{"s":"DMSO","nm":393,"v":0.04},{"s":"DMSO","nm":396,"v":0.027},{"s":"DMSO","nm":400,"v":0.017},
{"s":"toluene","nm":203,"v":0.01},{"s":"toluene","nm":262,"v":0.01},{"s":"toluene","nm":266,"v":0.014},{"s":"toluene","nm":269,"v":0.012},{"s":"toluene","nm":274,"v":0.01},{"s":"toluene","nm":278,"v":0.012},{"s":"toluene","nm":280,"v":0.04},{"s":"toluene","nm":282,"v":0.12},{"s":"toluene","nm":284,"v":0.3},{"s":"toluene","nm":286,"v":0.41},{"s":"toluene","nm":288,"v":0.47},{"s":"toluene","nm":290,"v":0.53},{"s":"toluene","nm":293,"v":0.63},{"s":"toluene","nm":296,"v":0.7},{"s":"toluene","nm":299,"v":0.757},{"s":"toluene","nm":302,"v":0.81},{"s":"toluene","nm":305,"v":0.855},{"s":"toluene","nm":308,"v":0.9},{"s":"toluene","nm":311,"v":0.94},{"s":"toluene","nm":314,"v":0.975},{"s":"toluene","nm":316,"v":1},{"s":"toluene","nm":319,"v":0.965},{"s":"toluene","nm":322,"v":0.895},{"s":"toluene","nm":325,"v":0.79},{"s":"toluene","nm":328,"v":0.69},{"s":"toluene","nm":331,"v":0.61},{"s":"toluene","nm":334,"v":0.565},{"s":"toluene","nm":337,"v":0.56},{"s":"toluene","nm":340,"v":0.57},{"s":"toluene","nm":343,"v":0.59},{"s":"toluene","nm":346,"v":0.608},{"s":"toluene","nm":349,"v":0.62},{"s":"toluene","nm":352,"v":0.625},{"s":"toluene","nm":355,"v":0.618},{"s":"toluene","nm":358,"v":0.598},{"s":"toluene","nm":361,"v":0.568},{"s":"toluene","nm":364,"v":0.528},{"s":"toluene","nm":367,"v":0.478},{"s":"toluene","nm":370,"v":0.42},{"s":"toluene","nm":373,"v":0.352},{"s":"toluene","nm":376,"v":0.285},{"s":"toluene","nm":379,"v":0.218},{"s":"toluene","nm":382,"v":0.155},{"s":"toluene","nm":385,"v":0.103},{"s":"toluene","nm":388,"v":0.067},{"s":"toluene","nm":391,"v":0.043},{"s":"toluene","nm":394,"v":0.027},{"s":"toluene","nm":397,"v":0.018},{"s":"toluene","nm":400,"v":0.012}
]},
"hconcat":[
{"width":411,"height":409,
"encoding":{
"x":{"field":"nm","type":"quantitative","scale":{"domain":[360,680],"nice":false,"zero":false},"axis":{"title":"Wavelength [nm]","values":[360,370,380,390,400,410,420,430,440,450,460,470,480,490,500,510,520,530,540,550,560,570,580,590,600,610,620,630,640,650,660,670,680],"labelExpr":"datum.value % 40 === 0 ? datum.label : ''"}},
"y":{"field":"v","type":"quantitative","scale":{"domain":[0,1.2],"nice":false},"axis":{"title":"Normalized emission spectrum [a.u.]","values":[0,0.04,0.08,0.12,0.16,0.2,0.24,0.28,0.32,0.36,0.4,0.44,0.48,0.52,0.56,0.6,0.64,0.68,0.72,0.76,0.8,0.84,0.88,0.92,0.96,1,1.04,1.08,1.12,1.16,1.2],"labelExpr":"abs(datum.value*5-round(datum.value*5))<0.001 ? format(datum.value,'.1f') : ''"}}},
"layer":[
{"data":{"name":"emission"},"mark":{"type":"line","interpolate":"monotone","strokeWidth":1.2,"clip":true},
"encoding":{"color":{"field":"s","type":"nominal","sort":null,"scale":{"domain":["acetonitrile","ethyl acetate","chloroform","1,4-dioxane","methanol","DCM","DMF","diethyl ether","DMSO","toluene"],"range":["#808080","#1a1aff","#800080","#22dd22","#1ec8f5","#ff1010","#ff00ff","#000000","#ff8080","#99cc00"]},
"legend":{"title":null,"orient":"none","legendX":270,"legendY":43,"symbolType":"stroke","symbolSize":650,"symbolStrokeWidth":1.5,"labelFontSize":18,"labelOffset":3,"rowPadding":4.5}}}},
{"data":{"values":[{"nm":496.4,"v":1.152,"label":"Positive Solvatochromism"}]},"mark":{"type":"text","fontWeight":"bold","fontSize":19,"color":"#1f3864"},"encoding":{"text":{"field":"label"}}},
{"data":{"values":[{"nm":403.3,"v":1.039,"label":"425 nm"},{"nm":501.7,"v":1.039,"label":"477 nm"}]},"mark":{"type":"text","fontWeight":"bold","fontSize":18,"color":"#000"},"encoding":{"text":{"field":"label"}}},
{"data":{"values":[{"nm":461.7,"v":0.1,"label":"MeS-Q-CN"}]},"mark":{"type":"text","fontWeight":"bold","fontSize":20.5,"color":"#000"},"encoding":{"text":{"field":"label"}}},
{"data":{"values":[{"nm":452.2,"v":1.041}]},"mark":{"type":"point","shape":"M-1,-0.27L0.35,-0.27L0.35,-0.48L1,0L0.35,0.48L0.35,0.27L-1,0.27Z","size":2025,"filled":true,"fill":"#2aa7e1","stroke":"#1b6ea8","strokeWidth":1,"opacity":1}},
{"data":{"values":[{"nm":287.9,"v":1.221,"label":"A"}]},"mark":{"type":"text","font":"Liberation Serif","fontWeight":"bold","fontSize":28,"color":"#000"},"encoding":{"text":{"field":"label"}}}
]},
{"width":410,"height":409,
"encoding":{
"x":{"field":"nm","type":"quantitative","scale":{"domain":[200,400],"nice":false,"zero":false},"axis":{"title":"Wavelength [nm]","values":[200,210,220,230,240,250,260,270,280,290,300,310,320,330,340,350,360,370,380,390,400],"labelExpr":"datum.value % 50 === 0 ? datum.label : ''","domainWidth":2.5}},
"y":{"field":"v","type":"quantitative","scale":{"domain":[0,1.2],"nice":false},"axis":{"title":"Normalized excitation spectrum [a.u.]","values":[0,0.04,0.08,0.12,0.16,0.2,0.24,0.28,0.32,0.36,0.4,0.44,0.48,0.52,0.56,0.6,0.64,0.68,0.72,0.76,0.8,0.84,0.88,0.92,0.96,1,1.04,1.08,1.12,1.16,1.2],"labelExpr":"abs(datum.value*5-round(datum.value*5))<0.001 ? format(datum.value,'.1f') : ''","domainWidth":2}}},
"layer":[
{"data":{"name":"excitation"},"mark":{"type":"line","interpolate":"monotone","strokeWidth":1.2,"clip":true},
"encoding":{"color":{"field":"s","type":"nominal","sort":null,"scale":{"domain":["acetonitrile","ethyl acetate","chloroform","1,4-dioxane","methanol","DCM","DMF","diethyl ether","DMSO","toluene"],"range":["#808080","#1a1aff","#800080","#22dd22","#1ec8f5","#ff1010","#ff00ff","#000000","#ff8080","#99cc00"]},
"legend":{"title":null,"orient":"none","legendX":23,"legendY":9,"symbolType":"M-1.5,0H1.5","symbolSize":289,"symbolStrokeWidth":1.5,"labelFontSize":18,"labelOffset":7,"rowPadding":0}}}},
{"data":{"values":[{"nm":360.4,"v":1.1,"label":"MeS-Q-CN"}]},"mark":{"type":"text","fontWeight":"bold","fontSize":20.5,"color":"#000"},"encoding":{"text":{"field":"label"}}},
{"data":{"values":[{"nm":149.0,"v":1.233,"label":"B"}]},"mark":{"type":"text","font":"Liberation Serif","fontWeight":"bold","fontSize":28,"color":"#000"},"encoding":{"text":{"field":"label"}}}
]}
],
"spacing":5,
"resolve":{"scale":{"color":"independent","x":"independent","y":"independent"},"legend":{"color":"independent"}}
}
